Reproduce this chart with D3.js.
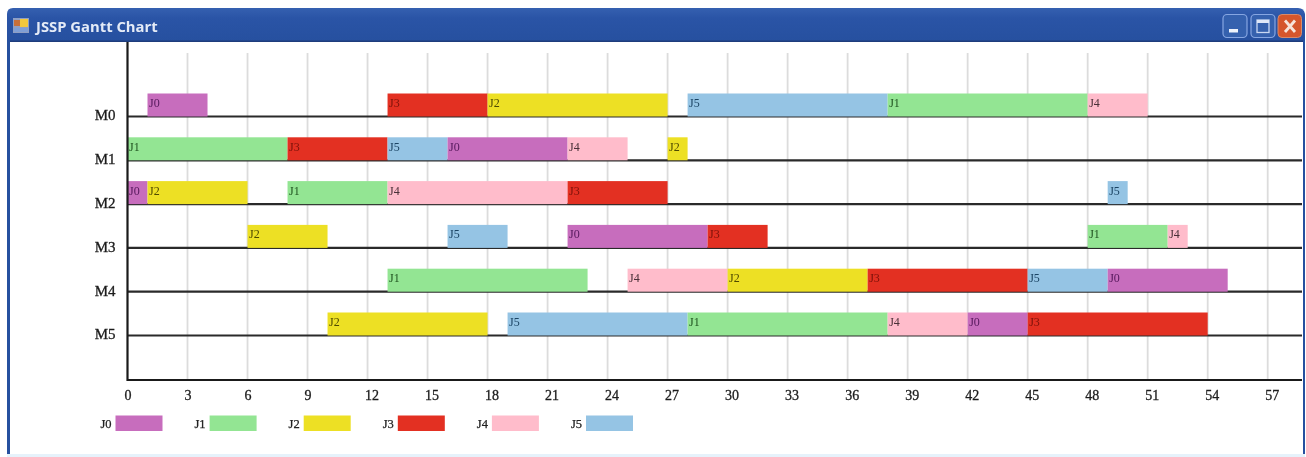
<!DOCTYPE html>
<html>
<head>
<meta charset="utf-8">
<script src="https://cdn.jsdelivr.net/npm/d3@7"></script>
<style>
  html, body { margin: 0; padding: 0; background: #fff; overflow: hidden; }
  svg { filter: blur(0.45px); }
  .tick text { font-family: "Liberation Serif", serif; fill: #1c1c1c; stroke: #1c1c1c; stroke-width: 0.3px; }
</style>
</head>
<body>
<div id="chart"></div>
<script>
const machines = ["M0", "M1", "M2", "M3", "M4", "M5"];
const jobs = ["J0", "J1", "J2", "J3", "J4", "J5"];
const jobColors = ["#c76dbd", "#93e593", "#ede024", "#e33022", "#ffbccb", "#95c4e4"];
const labelColors = ["#55185c", "#1f521f", "#4f4a00", "#7a120a", "#4a3038", "#1b4464"];
const xTicks = d3.range(0, 58, 3);

// one row per machine, each op is [job, start, end]
const m0Ops = [["J0", 1, 4], ["J3", 13, 18], ["J2", 18, 27], ["J5", 28, 38], ["J1", 38, 48], ["J4", 48, 51]];
const m1Ops = [["J1", 0, 8], ["J3", 8, 13], ["J5", 13, 16], ["J0", 16, 22], ["J4", 22, 25], ["J2", 27, 28]];
const m2Ops = [["J0", 0, 1], ["J2", 1, 6], ["J1", 8, 13], ["J4", 13, 22], ["J3", 22, 27], ["J5", 49, 50]];
const m3Ops = [["J2", 6, 10], ["J5", 16, 19], ["J0", 22, 29], ["J3", 29, 32], ["J1", 48, 52], ["J4", 52, 53]];
const m4Ops = [["J1", 13, 23], ["J4", 25, 30], ["J2", 30, 37], ["J3", 37, 45], ["J5", 45, 49], ["J0", 49, 55]];
const m5Ops = [["J2", 10, 18], ["J5", 19, 28], ["J1", 28, 38], ["J4", 38, 42], ["J0", 42, 45], ["J3", 45, 54]];
const machineOps = [m0Ops, m1Ops, m2Ops, m3Ops, m4Ops, m5Ops];

const width = 1306, height = 457;
const svg = d3.select("#chart").append("svg")
  .attr("width", width).attr("height", height)
  .style("display", "block");

const defs = svg.append("defs");
const titleGrad = defs.append("linearGradient").attr("id", "titleGrad")
  .attr("gradientUnits", "userSpaceOnUse")
  .attr("x1", 0).attr("x2", 0).attr("y1", 8).attr("y2", 42);
titleGrad.append("stop").attr("offset", "0%").attr("stop-color", "#3560b0");
titleGrad.append("stop").attr("offset", "30%").attr("stop-color", "#2a54a6");
titleGrad.append("stop").attr("offset", "100%").attr("stop-color", "#26509f");

// Window frame
svg.append("path")
  .attr("d", "M7,457 L7,14 Q7,8 13,8 L1298,8 Q1304,8 1305,14 L1305,457 Z")
  .attr("fill", "url(#titleGrad)");
svg.append("rect").attr("x", 10).attr("y", 42).attr("width", 1293).attr("height", 412).attr("fill", "#fff");
svg.append("rect").attr("x", 10).attr("y", 40.5).attr("width", 1293).attr("height", 1.5).attr("fill", "#1e3c7c");
svg.append("rect").attr("x", 7).attr("y", 454).attr("width", 1298).attr("height", 3).attr("fill", "#e6f2fb");

// Title bar icon
const icon = svg.append("g").attr("transform", "translate(13,18)");
icon.append("rect").attr("width", 16).attr("height", 15).attr("fill", "#8f9fc4");
icon.append("rect").attr("x", 1).attr("y", 2).attr("width", 6).attr("height", 6).attr("fill", "#c8703a");
icon.append("rect").attr("x", 7).attr("y", 1).attr("width", 8).attr("height", 8).attr("fill", "#f2c83c");
icon.append("rect").attr("x", 1).attr("y", 10).attr("width", 14).attr("height", 4).attr("fill", "#7f9fd6");

svg.append("text")
  .attr("x", 36).attr("y", 32)
  .attr("font-family", "'Open Sans', 'Noto Sans', sans-serif")
  .attr("font-weight", 700).attr("font-size", 14.8)
  .attr("fill", "#e4ebf7")
  .text("JSSP Gantt Chart");

// Window buttons
const winBtn = svg.append("g");
winBtn.append("rect").attr("x", 1223).attr("y", 14.5).attr("width", 24).attr("height", 23).attr("rx", 4)
  .attr("fill", "#3561ae").attr("stroke", "#86a6e2").attr("stroke-width", 1.2);
winBtn.append("rect").attr("x", 1229).attr("y", 29).attr("width", 9).attr("height", 3.5).attr("fill", "#eef3fb");
winBtn.append("rect").attr("x", 1251).attr("y", 14.5).attr("width", 24).attr("height", 23).attr("rx", 4)
  .attr("fill", "#3561ae").attr("stroke", "#86a6e2").attr("stroke-width", 1.2);
winBtn.append("rect").attr("x", 1257).attr("y", 20).attr("width", 12).attr("height", 12.5)
  .attr("fill", "none").attr("stroke", "#c9d8f2").attr("stroke-width", 1.3);
winBtn.append("rect").attr("x", 1257).attr("y", 20).attr("width", 12).attr("height", 3).attr("fill", "#dfe8f8");
winBtn.append("rect").attr("x", 1278).attr("y", 14.5).attr("width", 23.5).attr("height", 23).attr("rx", 4)
  .attr("fill", "#d5562c").attr("stroke", "#d98a6a").attr("stroke-width", 1);
winBtn.append("path").attr("d", "M1285,20.5 L1295,32 M1295,20.5 L1285,32")
  .attr("stroke", "#f6e4da").attr("stroke-width", 2.8).attr("fill", "none");

// Scales
const xScale = d3.scaleLinear().domain([0, 57]).range([127.5, 1267.7]);
const yScale = d3.scalePoint().domain(machines).range([116.5, 335.5]);
const axisY = 380;
const gridTop = 53;
const plotRight = 1302;
const barHeight = 23;

// Vertical grid
svg.append("g").selectAll("line")
  .data(xTicks.slice(1))
  .enter().append("line")
  .attr("x1", d => xScale(d)).attr("x2", d => xScale(d))
  .attr("y1", gridTop).attr("y2", axisY)
  .attr("stroke", "#dcdcdc").attr("stroke-width", 1.8);

// Machine baselines
svg.append("g").selectAll("line")
  .data(machines)
  .enter().append("line")
  .attr("x1", xScale(0)).attr("x2", plotRight)
  .attr("y1", d => yScale(d)).attr("y2", d => yScale(d))
  .attr("stroke", "#2a2a2a").attr("stroke-width", 2.2);

// Bars
machines.forEach((m, i) => {
  const row = svg.append("g").attr("class", "row " + m);
  row.selectAll("rect")
    .data(machineOps[i])
    .enter().append("rect")
    .attr("x", d => xScale(d[1]))
    .attr("y", yScale(m) - barHeight)
    .attr("width", d => xScale(d[2]) - xScale(d[1]))
    .attr("height", barHeight)
    .attr("fill", d => jobColors[jobs.indexOf(d[0])]);
  row.selectAll("text")
    .data(machineOps[i])
    .enter().append("text")
    .attr("x", d => xScale(d[1]) + 1.5)
    .attr("y", yScale(m) - barHeight + 13.5)
    .attr("font-family", "'Liberation Serif', serif")
    .attr("font-size", 12)
    .attr("fill", d => labelColors[jobs.indexOf(d[0])])
    .text(d => d[0]);
});

// Axes
const xAxis = d3.axisBottom(xScale).tickValues(xTicks).tickSize(0).tickPadding(10);
const xG = svg.append("g").attr("transform", "translate(0," + axisY + ")").call(xAxis);
xG.select(".domain").remove();
xG.selectAll("text")
  .attr("font-size", 14)
  .attr("dx", d => d >= 10 ? 4 : 0);

const yAxis = d3.axisLeft(yScale).tickSize(0).tickPadding(12);
const yG = svg.append("g").attr("transform", "translate(" + xScale(0) + ",-1.5)").call(yAxis);
yG.select(".domain").remove();
yG.selectAll("text").attr("font-size", 15);

svg.append("line").attr("x1", xScale(0)).attr("x2", plotRight).attr("y1", axisY).attr("y2", axisY)
  .attr("stroke", "#1a1a1a").attr("stroke-width", 2.2);
svg.append("line").attr("x1", xScale(0)).attr("x2", xScale(0)).attr("y1", 42).attr("y2", axisY + 1)
  .attr("stroke", "#1a1a1a").attr("stroke-width", 2.2);

// Legend
const legendX = d3.scalePoint().domain(jobs).range([115.5, 586]);
const legend = svg.append("g").selectAll("g")
  .data(jobs)
  .enter().append("g")
  .attr("transform", d => "translate(" + legendX(d) + ",415.5)");
legend.append("rect")
  .attr("width", 47).attr("height", 15.5)
  .attr("fill", (d, i) => jobColors[i]);
legend.append("text")
  .attr("x", -4).attr("y", 12)
  .attr("text-anchor", "end")
  .attr("font-family", "'Liberation Serif', serif")
  .attr("font-size", 12.5)
  .attr("fill", "#222")
  .attr("stroke", "#222")
  .attr("stroke-width", 0.25)
  .text(d => d);
</script>
</body>
</html>
